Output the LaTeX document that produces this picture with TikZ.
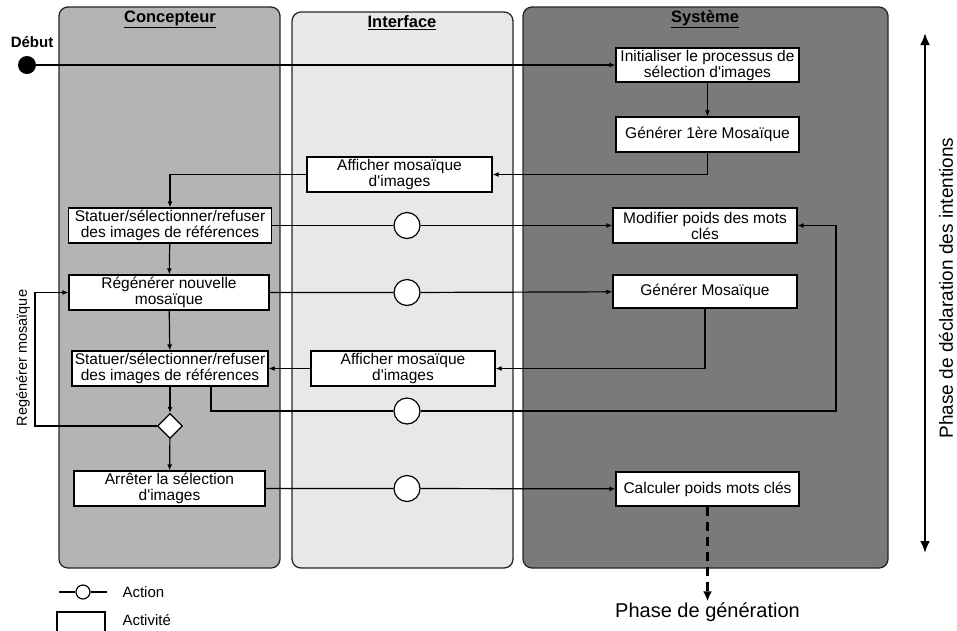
\documentclass[tikz,border=0pt]{standalone}
\usepackage{xcolor}
\usepackage{fontspec}
\setmainfont{Liberation Sans}
\usepackage{tikz}
\usetikzlibrary{arrows.meta,positioning,calc,shapes.geometric}
\definecolor{ConcGray}{HTML}{B4B4B4}
\definecolor{InterGray}{HTML}{E8E8E8}
\definecolor{SysGray}{HTML}{7A7A7A}
\newcommand{\apos}{\textquotesingle}

\begin{document}
\begin{tikzpicture}[x=1pt,y=-1pt,
  lane/.style={draw=black!85,line width=1.3pt,rounded corners=9pt},
  titre/.style={font=\fontsize{16.5}{18}\selectfont\bfseries},
  activite/.style={draw,fill=white,line width=1.2pt,align=center,inner sep=1pt,
    minimum height=35,font=\fontsize{15.5}{16}\selectfont},
  action/.style={draw,fill=white,circle,line width=1.2pt,minimum size=26,inner sep=0pt},
  choix/.style={draw,fill=white,diamond,line width=1.2pt,minimum width=25,minimum height=25,inner sep=0pt},
  flux/.style={line width=1.2pt,-{Latex[length=6pt,width=5pt]}},
  etiq/.style={font=\fontsize{15}{17}\selectfont}]
\useasboundingbox (0,0) rectangle (957,630);

% couloirs
\draw[lane,fill=ConcGray] (59,7) rectangle (280,568);
\draw[lane,fill=InterGray] (292,12) rectangle (513,568);
\draw[lane,fill=SysGray] (523,7) rectangle (888,568);
\node[titre] (tconc) at (170,19) {\underline{Concepteur}};
\node[titre] (tinter) at (402,23) {\underline{Interface}};
\node[titre] (tsys) at (705,19) {\underline{Système}};

% debut
\node[etiq,font=\fontsize{15}{17}\selectfont\bfseries] (ldebut) at (32,42) {Début};
\node[circle,fill=black,minimum size=18,inner sep=0pt] (debut) at (27,65) {};

% activites
\node[activite,minimum width=183,minimum height=34] (init) at (707.5,65) {Initialiser le processus de\\sélection d\apos images};
\node[activite,minimum width=183] (gen1) at (707.5,134.5) {Générer 1ère Mosaïque};
\node[activite,minimum width=185] (aff1) at (399.5,174.5) {Afficher mosaïque\\d\apos images};
\node[activite,minimum width=203] (stat1) at (170,225.5) {Statuer/sélectionner/refuser\\des images de références};
\node[activite,minimum width=184] (modif) at (705,225.5) {Modifier poids des mots\\clés};
\node[activite,minimum width=200] (regen) at (169,292.5) {Régénérer nouvelle\\mosaïque};
\node[activite,minimum width=184,minimum height=33] (genm) at (705,291.5) {Générer Mosaïque};
\node[activite,minimum width=196] (stat2) at (170,368.5) {Statuer/sélectionner/refuser\\des images de références};
\node[activite,minimum width=184] (aff2) at (403,368.5) {Afficher mosaïque\\d\apos images};
\node[choix] (choix) at (170,426) {};
\node[activite,minimum width=191] (arret) at (169.5,488.5) {Arrêter la sélection\\d\apos images};
\node[activite,minimum width=183,minimum height=34] (calc) at (707.5,489) {Calculer poids mots clés};

% actions
\node[action] (act1) at (407,225.5) {};
\node[action] (act2) at (407,292.5) {};
\node[action] (act3) at (407,411) {};
\node[action] (act4) at (407,488.5) {};

\coordinate (retour) at (836,225.5);
\coordinate (boucle) at (35,426);

% flux
\draw[flux] (debut) -- (init);
\draw[flux] (init) -- (gen1);
\draw[flux] (gen1.south) |- (aff1.east);
\draw[flux] (aff1.west) -| (stat1.north);
\draw[flux] (stat1) -- (act1) -- (modif);
\draw[flux] (stat1) -- (regen);
\draw[flux] (regen) -- (act2) -- (genm);
\draw[flux] (regen) -- (stat2);
\draw[flux] (genm.south) |- (aff2.east);
\draw[flux] (aff2) -- (stat2);
\draw[line width=1.2pt] ([xshift=41pt]stat2.south) |- (act3.west);
\draw[flux] (act3.east) -| (retour) -- (modif.east);
\draw[flux] (stat2) -- (choix);
\draw[flux] (choix.west) -- (boucle) |- (regen.west);
\node[etiq,rotate=90,font=\fontsize{14.5}{16}\selectfont] (lboucle) at (23,358) {Regénérer mosaïque};
\draw[flux] (choix) -- (arret);
\draw[flux] (arret) -- (act4) -- (calc);

% phases
\node[font=\fontsize{20}{22}\selectfont,inner sep=1pt] (phgen) at (707.5,612) {Phase de génération};
\draw[line width=2.5pt,dash pattern=on 9pt off 6pt,-{Latex[length=10pt,width=9pt]}] (calc.south) -- (phgen.north);
\coordinate (phhaut) at (925,33);
\coordinate (phbas) at (925,553);
\draw[line width=2.5pt,{Latex[length=12pt,width=10pt]}-{Latex[length=12pt,width=10pt]}] (phhaut) -- (phbas);
\node[rotate=90,font=\fontsize{19}{22}\selectfont] (phdecl) at (946,288) {Phase de déclaration des intentions};

% legende
\node[circle,draw,line width=1.2pt,minimum size=14,inner sep=0pt] (legact) at (83,592) {};
\draw[line width=1.2pt] (59,592) -- (legact) -- (107,592);
\node[etiq,anchor=west] (lact) at (119,592) {Action};
\node[draw,line width=1.2pt,minimum width=48,minimum height=26,inner sep=0pt] (legbox) at (81,625) {};
\node[etiq,anchor=west] (lbox) at (119,620) {Activité};
\end{tikzpicture}
\end{document}
